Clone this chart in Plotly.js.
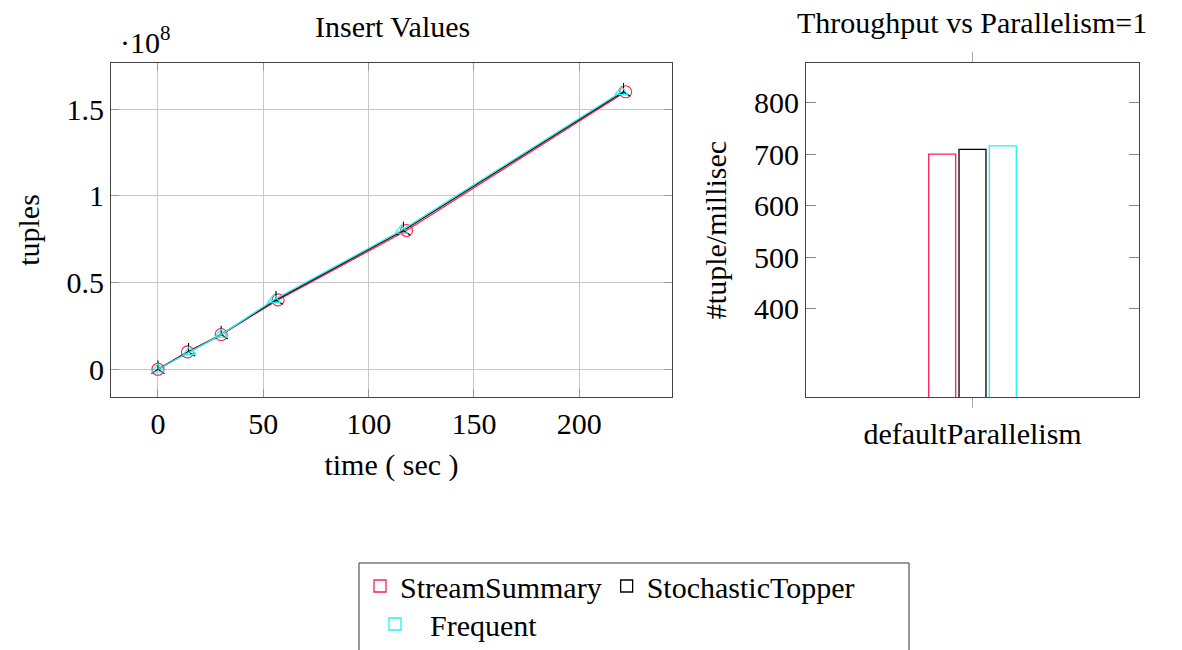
<!DOCTYPE html>
<html>
<head>
<meta charset="utf-8">
<script src="https://cdn.plot.ly/plotly-3.0.1.min.js"></script>
<style>html,body{margin:0;padding:0;background:#fff;}#chart{width:1182px;height:650px;}</style>
</head>
<body>
<div id="chart"></div>
<script>
// Data
const seriesNames = ['StreamSummary', 'StochasticTopper', 'Frequent'];
const colors = ['#ff1f4f', '#000000', '#22f0f0'];

const timeStreamSummary = [0, 14, 30, 57, 118, 222];
const tuplesStreamSummary = [0, 1e7, 2e7, 4e7, 8e7, 1.6e8];
const timeStochasticTopper = [0, 14.5, 30, 56, 116.5, 221];
const tuplesStochasticTopper = [0, 1e7, 2e7, 4e7, 8e7, 1.6e8];
const timeFrequent = [0, 15, 30, 55, 115.5, 220];
const tuplesFrequent = [0, 1e7, 2e7, 4e7, 8e7, 1.6e8];

const barCategories = ['defaultParallelism'];
const throughputStreamSummary = [700];
const throughputStochasticTopper = [709];
const throughputFrequent = [716];

const xTickVals = [0, 50, 100, 150, 200];
const yTickVals = [0, 0.5e8, 1e8, 1.5e8];
const yTickText = ['0', '0.5', '1', '1.5'];
const y2TickVals = [400, 500, 600, 700, 800];

const FONT = 'Liberation Serif, serif';
const FS = 30;
const symbols = ['circle-open', 'y-up-open', 'triangle-up-open'];
const lineX = [timeStreamSummary, timeStochasticTopper, timeFrequent];
const lineY = [tuplesStreamSummary, tuplesStochasticTopper, tuplesFrequent];
const barY = [throughputStreamSummary, throughputStochasticTopper, throughputFrequent];
const legendOf = ['legend', 'legend', 'legend2'];

const traces = [];
for (let i = 0; i < 3; i++) {
  traces.push({
    type: 'scatter', mode: 'lines+markers', x: lineX[i], y: lineY[i],
    xaxis: 'x', yaxis: 'y', name: seriesNames[i], showlegend: false,
    line: {color: colors[i], width: 1.3},
    marker: {symbol: symbols[i], size: i === 0 ? 12 : 11, color: colors[i], line: {color: colors[i], width: 1.1}}
  });
}
for (let i = 0; i < 3; i++) {
  traces.push({
    type: 'bar', x: barCategories, y: barY[i], xaxis: 'x2', yaxis: 'y2', name: seriesNames[i],
    legend: legendOf[i],
    marker: {color: 'rgba(255,255,255,0)', line: {color: colors[i], width: 1.3}}
  });
}

const W = 1182, H = 650;
const axisCommon = {
  zeroline: false, showline: true, linecolor: '#444', linewidth: 1, mirror: 'ticks',
  tickfont: {family: FONT, size: FS, color: '#000'}
};
const layout = {
  width: W, height: H,
  margin: {l: 0, r: 0, t: 0, b: 0, autoexpand: false},
  paper_bgcolor: '#fff', plot_bgcolor: '#fff',
  font: {family: FONT, size: FS, color: '#000'},
  showlegend: true,
  barmode: 'group', bargap: 0.727, bargroupgap: 0.11,
  xaxis: Object.assign({}, axisCommon, {
    domain: [111 / W, 672 / W], range: [-22.3, 244], anchor: 'y',
    tickvals: xTickVals, showgrid: true, gridcolor: '#c8c8c8', gridwidth: 1,
    ticks: 'inside', ticklen: 8, tickcolor: '#999',
    title: {text: 'time ( sec )', font: {size: FS}, standoff: 14}
  }),
  yaxis: Object.assign({}, axisCommon, {
    domain: [1 - 397 / H, 1 - 63 / H], range: [-0.16e8, 1.766e8], anchor: 'x',
    tickvals: yTickVals, ticktext: yTickText, showgrid: true, gridcolor: '#c8c8c8', gridwidth: 1,
    ticks: 'inside', ticklen: 8, tickcolor: '#999',
    title: {text: 'tuples', font: {size: FS}, standoff: 18}
  }),
  xaxis2: Object.assign({}, axisCommon, {
    domain: [806 / W, 1139 / W], anchor: 'y2', type: 'category', range: [-0.5, 0.5],
    showgrid: false, ticks: 'outside', ticklen: 10, tickcolor: '#aaa'
  }),
  yaxis2: Object.assign({}, axisCommon, {
    domain: [1 - 397 / H, 1 - 63 / H], anchor: 'x2', range: [228, 877],
    tickvals: y2TickVals, showgrid: false,
    ticks: 'inside', ticklen: 10, tickcolor: '#888',
    title: {text: '#tuple/millisec', font: {size: FS}, standoff: 18}
  }),
  legend: {
    orientation: 'h', x: 360 / W, y: 1 - 560 / H, xanchor: 'left', yanchor: 'top',
    borderwidth: 0, bgcolor: 'rgba(0,0,0,0)', font: {size: FS}, itemwidth: 30, tracegroupgap: 0
  },
  legend2: {
    orientation: 'h', x: 360 / W, y: 1 - 598 / H, xanchor: 'left', yanchor: 'top',
    borderwidth: 0, bgcolor: 'rgba(0,0,0,0)', font: {size: FS}, itemwidth: 60, tracegroupgap: 0
  },
  shapes: [
    {type: 'rect', xref: 'paper', yref: 'paper', x0: 359 / W, x1: 909 / W, y0: -0.02, y1: 1 - 563 / H,
     line: {color: '#333', width: 1}, fillcolor: 'rgba(0,0,0,0)', layer: 'below'}
  ],
  annotations: [
    {text: 'Insert Values', xref: 'paper', yref: 'paper', x: 392 / W, y: 1 - 27 / H, xanchor: 'center', yanchor: 'middle', showarrow: false, font: {size: FS}},
    {text: 'Throughput vs Parallelism=1', xref: 'paper', yref: 'paper', x: 972 / W, y: 1 - 22 / H, xanchor: 'center', yanchor: 'middle', showarrow: false, font: {size: FS}},
    {text: '·10<sup>8</sup>', xref: 'paper', yref: 'paper', x: 118 / W, y: 1 - 40 / H, xanchor: 'left', yanchor: 'middle', showarrow: false, font: {size: FS}}
  ]
};

Plotly.newPlot('chart', traces, layout, {displayModeBar: false, staticPlot: true});
</script>
</body>
</html>
